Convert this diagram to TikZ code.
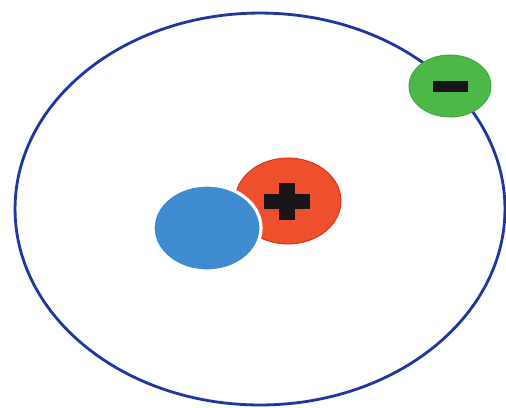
\documentclass[tikz,border=0pt]{standalone}
\usepackage{tikz}
\usetikzlibrary{shapes.geometric}

\definecolor{orbitblue}{RGB}{30,55,160}
\definecolor{protonred}{RGB}{238,80,45}
\definecolor{protonedge}{RGB}{215,45,25}
\definecolor{neutronblue}{RGB}{62,139,208}
\definecolor{electrongreen}{RGB}{75,184,72}
\definecolor{electronedge}{RGB}{60,165,60}
\definecolor{signblack}{RGB}{25,22,25}

\begin{document}
\begin{tikzpicture}[
  x=0.02cm, y=-0.02cm,
  particle/.style={ellipse, inner sep=0pt, outer sep=0pt},
  orbit/.style={ellipse, draw=orbitblue, line width=1.6pt, inner sep=0pt},
  sign/.style={fill=signblack}
]
\useasboundingbox (0,0) rectangle (506,407);

% electron path
\node[orbit, minimum width=9.8cm, minimum height=7.84cm] (orbit) at (260,209) {};

% nucleus
\node[particle, fill=protonred, draw=protonedge, line width=0.5pt,
      minimum width=2.12cm, minimum height=1.72cm] (proton) at (288,201) {};
\node[particle, fill=neutronblue, draw=white, line width=1.8pt,
      minimum width=2.16cm, minimum height=1.72cm] (neutron) at (207,228) {};

% electron
\node[particle, fill=electrongreen, draw=electronedge, line width=0.5pt,
      minimum width=1.64cm, minimum height=1.24cm] (electron) at (450,86) {};

% charge signs
\begin{scope}[shift={(proton.center)}]
  \fill[sign] (-24,-7) rectangle (22,8);
  \fill[sign] (-9,-18) rectangle (7,19);
\end{scope}
\begin{scope}[shift={(electron.center)}]
  \fill[sign] (-17,-5) rectangle (18,6);
\end{scope}
\end{tikzpicture}
\end{document}
